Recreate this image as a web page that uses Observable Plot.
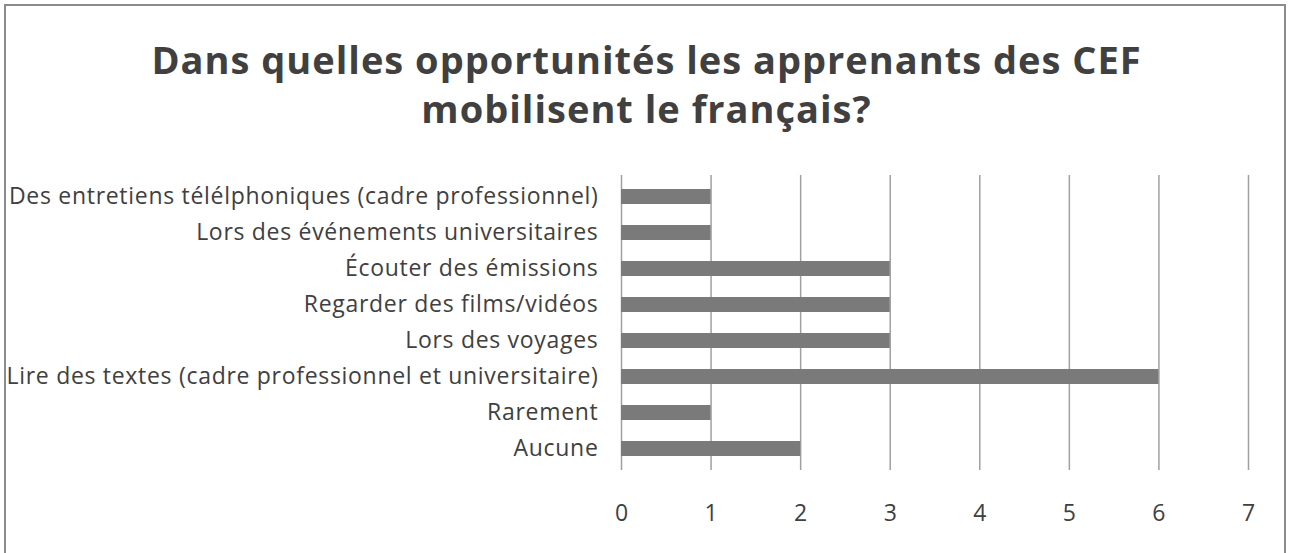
<!DOCTYPE html>
<html>
<head>
<meta charset="utf-8">
<script src="https://cdn.jsdelivr.net/npm/d3@7"></script>
<script src="https://cdn.jsdelivr.net/npm/@observablehq/plot@0.6"></script>
<style>
  html, body { margin: 0; padding: 0; background: #fff; }
  #frame { position: relative; width: 1293px; height: 553px; overflow: hidden; }
  #border { position: absolute; left: 4px; top: 4px; width: 1278px; height: 570px; border: 2px solid #8c8c8c; }
  #title { position: absolute; left: 0; top: 35px; width: 1293px; text-align: center;
           font-family: "Open Sans", sans-serif; font-weight: 700; font-size: 38px; line-height: 49px;
           letter-spacing: 1px; color: #404040; }
  #chart { position: absolute; left: 0; top: 140px; }
  #chart g[aria-label="y-axis tick label"] text { letter-spacing: 0.7px; }
</style>
</head>
<body>
<div id="frame">
  <div id="border"></div>
  <div id="title">Dans quelles opportunités les apprenants des CEF<br>mobilisent le français?</div>
  <div id="chart"></div>
</div>
<script>
const categories = [
  "Des entretiens télélphoniques (cadre professionnel)",
  "Lors des événements universitaires",
  "Écouter des émissions",
  "Regarder des films/vidéos",
  "Lors des voyages",
  "Lire des textes (cadre professionnel et universitaire)",
  "Rarement",
  "Aucune"
];
const values = [1, 1, 3, 3, 3, 6, 1, 2];
const xTicks = [0, 1, 2, 3, 4, 5, 6, 7];

const data = categories.map((c, i) => ({category: c, value: values[i]}));

const chart = Plot.plot({
  width: 1293,
  height: 413,
  marginLeft: 621,
  marginRight: 45,
  marginTop: 35,
  marginBottom: 83,
  style: {fontFamily: "'Open Sans', sans-serif", color: "#404040", background: "transparent"},
  x: {domain: [0, 7], ticks: xTicks},
  y: {domain: categories, paddingInner: 0.58, paddingOuter: 0.29},
  marks: [
    Plot.gridX(xTicks, {stroke: "#a0a0a0", strokeOpacity: 1, strokeWidth: 1.5}),
    Plot.barX(data, {x: "value", y: "category", fill: "#7a7a7a"}),
    Plot.ruleY([0], {frameAnchor: "bottom", stroke: "#a0a0a0", strokeWidth: 1.5}),
    Plot.axisX(xTicks, {tickSize: 0, tickPadding: 34, fontSize: 23, fill: "#404040", label: null}),
    Plot.axisY({tickSize: 0, tickPadding: 23, fontSize: 23, fill: "#404040", label: null})
  ]
});
document.getElementById("chart").appendChild(chart);
</script>
</body>
</html>
